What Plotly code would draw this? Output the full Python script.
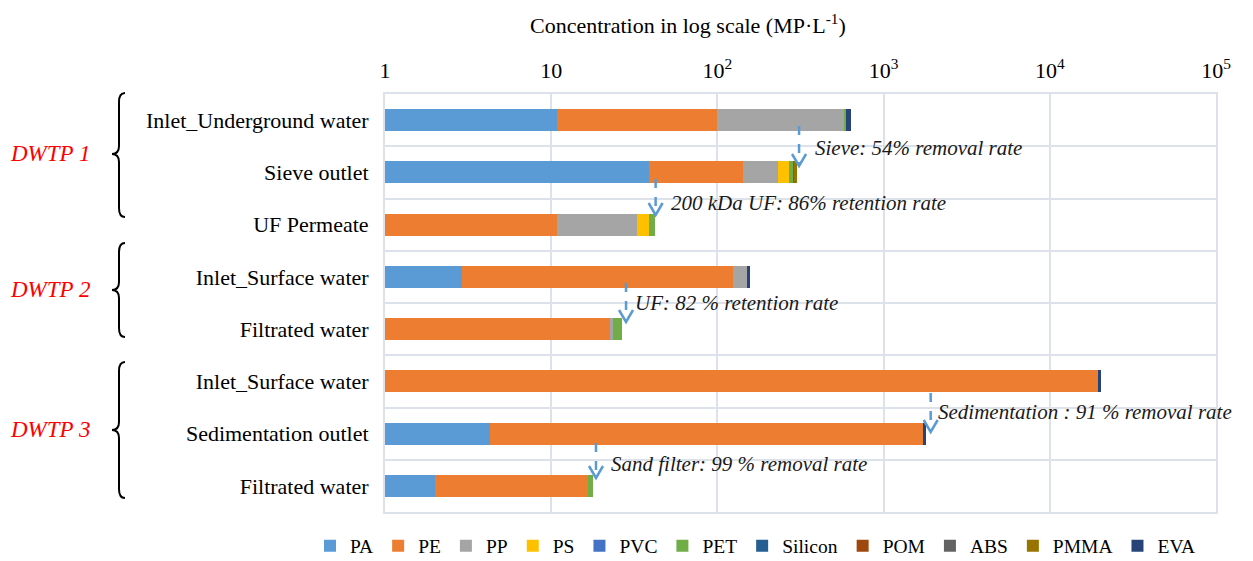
import math
import plotly.graph_objects as go

# Sampling points, top to bottom
stages = [
    "Inlet_Underground water",
    "Sieve outlet",
    "UF Permeate",
    "Inlet_Surface water",
    "Filtrated water",
    "Inlet_Surface water",
    "Sedimentation outlet",
    "Filtrated water",
]
plants = ["DWTP 1", "DWTP 2", "DWTP 3"]

# Concentration of each polymer (MP/L), stacked in this order
polymers = ["PA", "PE", "PP", "PS", "PVC", "PET", "Silicon", "POM", "ABS", "PMMA", "EVA"]
pa = [10.8, 38.6, 0, 2.9, 0, 0, 4.3, 2.0]
pe = [89, 103, 10.8, 121.6, 22.7, 19560, 1730, 14.7]
pp = [477, 90, 22, 26.5, 0.8, 0, 0, 0]
ps = [0, 39, 6, 0, 0, 0, 0, 0]
pvc = [0, 0, 0, 0, 0, 0, 0, 0]
pet = [19, 15, 3.2, 0, 3.0, 0, 0, 1.1]
silicon = [0, 0, 0, 0, 0, 0, 0, 0]
pom = [0, 0, 0, 0, 0, 0, 0, 0]
abs_ = [0, 4, 0, 0, 0, 0, 0, 0]
pmma = [0, 11, 0, 0, 0, 0, 0, 0]
eva = [42, 0, 0, 7, 0, 740, 66, 0]
series = [pa, pe, pp, ps, pvc, pet, silicon, pom, abs_, pmma, eva]

colors = ["#5B9BD5", "#ED7D31", "#A5A5A5", "#FFC000", "#4472C4", "#70AD47",
          "#255E91", "#9E480E", "#636363", "#997300", "#264478"]

# Treatment step notes: text, arrow x (MP/L)
notes = [
    ("Sieve: 54% removal rate", 310),
    ("200 kDa UF: 86% retention rate", 42.5),
    ("UF: 82 % retention rate", 28.2),
    ("Sedimentation : 91 % removal rate", 1920),
    ("Sand filter: 99 % removal rate", 18.6),
]

# plot area in pixels
W, H = 1253, 561
L, R, T, B = 385, 1216, 94, 512
FONT = "Liberation Serif"
GRID = "#DCE1EA"
ARROW = "#5B9BD5"


def px(x):
    return (x - L) / (R - L)


def py(y):
    return (B - y) / (B - T)


def row(y):
    # pixel y -> category position
    return (y - T) / ((B - T) / len(stages)) - 0.5


fig = go.Figure()
for name, vals, col in zip(polymers, series, colors):
    fig.add_trace(go.Bar(
        y=list(range(len(stages))), x=vals, name=name, orientation="h",
        marker=dict(color=col, line=dict(width=0)), width=0.42,
    ))

shapes = []
annotations = []

# arrows + notes: (arrow top, arrow tip, text y, text offset) in pixels
arrow_rows = [(126, 166, 148, 14), (179, 215, 203, 13), (283, 322, 303, 7),
              (393, 432, 412, 5), (443, 478, 464, 13)]
for (text, xv), (y0, y1, yt, dx) in zip(notes, arrow_rows):
    shapes.append(dict(type="line", xref="x", yref="y", x0=xv, x1=xv, y0=row(y0), y1=row(y1 - 2),
                       line=dict(color=ARROW, width=2.5, dash="dash")))
    shapes.append(dict(type="path", xref="x", yref="y", xsizemode="pixel", ysizemode="pixel",
                       xanchor=xv, yanchor=row(y1),
                       path="M-7,12 L0,0 L7,12", line=dict(color=ARROW, width=2.5)))
    annotations.append(dict(x=math.log10(xv), y=row(yt), xref="x", yref="y", text=text,
                            showarrow=False, xanchor="left", yanchor="middle", xshift=dx,
                            font=dict(family=FONT, size=21, color="#1a1a1a", style="italic")))

# plant braces and labels
braces = [(93, 217, 154), (243, 337, 290), (362, 498, 430)]
for name, (yt, yb, ym) in zip(plants, braces):
    xs, xh, xt = 119, 125, 112
    pts = lambda x, y: f"{px(x):.5f},{py(y):.5f}"
    path = (f"M{pts(xh, yt)} Q{pts(xs, yt)} {pts(xs, yt + 9)} L{pts(xs, ym - 8)} "
            f"Q{pts(xs, ym)} {pts(xt, ym)} Q{pts(xs, ym)} {pts(xs, ym + 8)} "
            f"L{pts(xs, yb - 9)} Q{pts(xs, yb)} {pts(xh, yb)}")
    shapes.append(dict(type="path", xref="paper", yref="paper", path=path,
                       line=dict(color="black", width=2)))
    annotations.append(dict(x=px(50), y=py(ym - 1), xref="paper", yref="paper", text=name,
                            showarrow=False, xanchor="center", yanchor="middle",
                            font=dict(family=FONT, size=23, color="#FF0000", style="italic")))

annotations.append(dict(x=px(688), y=py(24), xref="paper", yref="paper",
                        text="Concentration in log scale (MP·L<sup>-1</sup>)",
                        showarrow=False, xanchor="center", yanchor="middle",
                        font=dict(family=FONT, size=22, color="#000")))

fig.update_layout(
    width=W, height=H,
    margin=dict(l=L, r=W - R, t=T, b=H - B, autoexpand=False),
    barmode="stack",
    plot_bgcolor="white", paper_bgcolor="white",
    font=dict(family=FONT, size=21, color="#000"),
    shapes=shapes,
    annotations=annotations,
    legend=dict(orientation="h", x=px(310), y=py(546), xanchor="left", yanchor="middle",
                font=dict(family=FONT, size=19.5, color="#000"), traceorder="normal",
                itemclick=False),
    xaxis=dict(
        type="log", range=[0, 5], side="top", automargin=False,
        tickvals=[1, 10, 100, 1000, 10000, 100000],
        ticktext=["1", "10", "10<sup>2</sup>", "10<sup>3</sup>", "10<sup>4</sup>", "10<sup>5</sup>"],
        showgrid=True, gridcolor=GRID, gridwidth=2,
        showline=True, linecolor=GRID, linewidth=2, mirror=True,
        ticks="", ticklabelstandoff=5, zeroline=False,
        tickfont=dict(family=FONT, size=22, color="#000"),
    ),
    yaxis=dict(
        range=[len(stages) - 0.5, -0.5], automargin=False,
        tickvals=list(range(len(stages))), ticktext=stages,
        showgrid=False, zeroline=False,
        minor=dict(tickmode="linear", tick0=0.5, dtick=1, showgrid=True,
                   gridcolor=GRID, gridwidth=2, ticks=""),
        showline=True, linecolor=GRID, linewidth=2, mirror=True,
        ticks="", ticklabelstandoff=10,
        tickfont=dict(family=FONT, size=22, color="#000"),
    ),
)

fig.write_html("out.html", config={"displayModeBar": False},
               post_script="document.body.style.margin='0';")
